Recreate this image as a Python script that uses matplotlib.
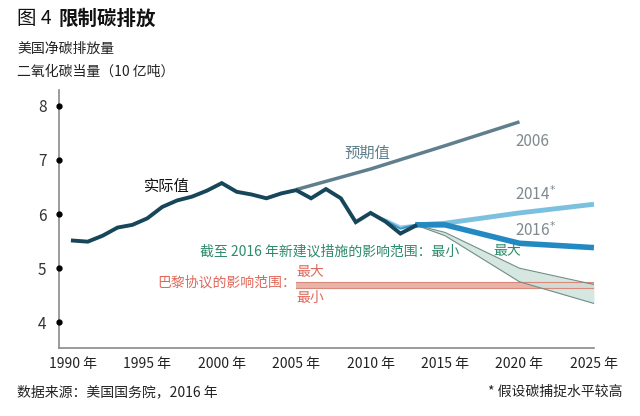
import matplotlib.pyplot as plt
import numpy as np

plt.rcParams['font.family'] = ['Noto Sans CJK SC', 'DejaVu Sans']

# actual emissions (billion tonnes CO2e)
years_actual = np.arange(1990, 2014)
actual = [5.51, 5.49, 5.60, 5.75, 5.80, 5.92, 6.13, 6.25, 6.32, 6.43,
          6.57, 6.41, 6.36, 6.29, 6.38, 6.44, 6.29, 6.46, 6.29, 5.85,
          6.02, 5.86, 5.64, 5.78]

# 2006 expectation
years_2006 = [2005, 2010, 2015, 2020]
proj_2006 = [6.45, 6.83, 7.26, 7.70]

# back-estimates drawn thin under the actual line
years_back = [2010, 2011, 2012, 2013]
back_2014 = [6.01, 5.90, 5.77, 5.80]
back_2016 = [6.01, 5.88, 5.73, 5.80]

# 2014 projection
years_2014 = [2013, 2015, 2020, 2025]
proj_2014 = [5.80, 5.83, 6.02, 6.18]

# 2016 projection
years_2016 = [2013, 2015, 2020, 2025]
proj_2016 = [5.80, 5.80, 5.46, 5.38]

# range of new measures (2016)
years_new = [2013, 2015, 2020, 2025]
new_max = [5.80, 5.66, 5.00, 4.70]
new_min = [5.80, 5.60, 4.75, 4.35]

# Paris agreement range
years_paris = [2005, 2025]
paris_max = [4.75, 4.75]
paris_min = [4.63, 4.63]

xticks = [1990, 1995, 2000, 2005, 2010, 2015, 2020, 2025]
xlabels = [f"{y} 年" for y in xticks]
yticks = [4, 5, 6, 7, 8]
xlim = (1989.06, 2025)

fig = plt.figure(figsize=(6.4, 4.16), dpi=100)
ax = fig.add_axes([0.092, 0.163, 0.836, 0.621])

ax.fill_between(years_paris, paris_min, paris_max, color='#eab3a8', lw=0)
ax.plot(years_paris, paris_max, color='#d9897b', lw=0.8)
ax.plot(years_paris, paris_min, color='#d9897b', lw=0.8)

ax.fill_between(years_new, new_min, new_max, color='#cfe2dc', alpha=0.85, lw=0)
ax.plot(years_new, new_max, color='#6f8f86', lw=0.8)
ax.plot(years_new, new_min, color='#6f8f86', lw=0.8)

ax.plot(years_2006, proj_2006, color='#5f7f8d', lw=2.5, solid_capstyle='butt')
ax.plot(years_back, back_2014, color='#8fcbe6', lw=1.5)
ax.plot(years_back, back_2016, color='#3a95c8', lw=1.5)
ax.plot(years_2014, proj_2014, color='#7cc0e0', lw=3.5, solid_capstyle='butt', clip_on=False)
ax.plot(years_2016, proj_2016, color='#2389c2', lw=4, solid_capstyle='butt', clip_on=False)
ax.plot(years_actual, actual, color='#17465a', lw=2.8, solid_joinstyle='miter')

ax.set_xlim(*xlim)
ax.set_ylim(3.525, 8.29)
ax.set_xticks(xticks)
ax.set_xticklabels(xlabels, fontsize=10, color='#222222')
ax.set_yticks(yticks)
ax.set_yticklabels([str(v) for v in yticks], fontsize=11, color='#333333')
ax.tick_params(axis='x', length=0, pad=6)
ax.tick_params(axis='y', length=0, pad=9)
# dot tick marks on the y axis
ax.plot(np.full(len(yticks), xlim[0]), yticks, 'o', ms=3.5, color='black',
        clip_on=False, zorder=5)

for s in ['top', 'right']:
    ax.spines[s].set_visible(False)
for s in ['left', 'bottom']:
    ax.spines[s].set_color('#8a8a8a')
    ax.spines[s].set_linewidth(1.2)

# annotations
ax.text(1996.3, 6.5, '实际值', fontsize=11, color='#111111', ha='center', va='center')
ax.text(2009.8, 7.12, '预期值', fontsize=11, color='#5f7f8d', ha='center', va='center')
ax.text(2019.7, 7.34, '2006', fontsize=11, color='#7f8a8f', ha='left', va='center')
ax.text(2019.7, 6.35, r'2014$^{*}$', fontsize=11, color='#7f8a8f', ha='left', va='center')
ax.text(2019.7, 5.70, r'2016$^{*}$', fontsize=11, color='#7f8a8f', ha='left', va='center')
ax.text(2015.95, 5.31, '截至 2016 年新建议措施的影响范围：最小', fontsize=10,
        color='#2e8a6c', ha='right', va='center')
ax.text(2019.2, 5.31, '最大', fontsize=10, color='#2e8a6c', ha='center', va='center')
ax.text(2005.0, 4.73, '巴黎协议的影响范围：', fontsize=10, color='#e0685a',
        ha='right', va='center')
ax.text(2005.0, 4.93, '最大', fontsize=10, color='#e0685a', ha='left', va='center')
ax.text(2005.0, 4.45, '最小', fontsize=10, color='#e0685a', ha='left', va='center')

# titles and footer
fig.text(17 / 640, 1 - 19 / 416, '图 4', fontsize=14, color='#111111', va='center')
fig.text(59 / 640, 1 - 19 / 416, '限制碳排放', fontsize=14, fontweight='bold',
         color='#111111', va='center')
fig.text(17 / 640, 1 - 49 / 416, '美国净碳排放量', fontsize=10, color='#222222', va='center')
fig.text(17 / 640, 1 - 72 / 416, '二氧化碳当量（10 亿吨）', fontsize=10, color='#222222', va='center')
fig.text(17 / 640, 1 - 392 / 416, '数据来源：美国国务院，2016 年', fontsize=10,
         color='#222222', va='center')
fig.text(622 / 640, 1 - 392 / 416, '* 假设碳捕捉水平较高', fontsize=10,
         color='#222222', va='center', ha='right')

fig.savefig('out.png', dpi=100)
